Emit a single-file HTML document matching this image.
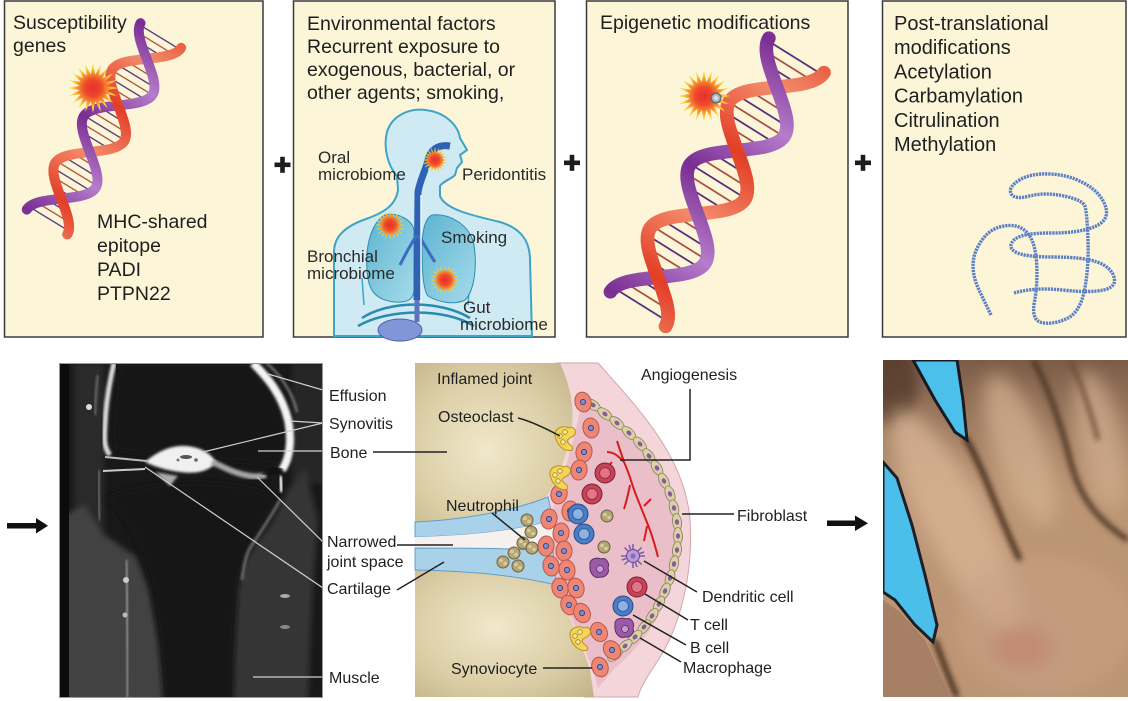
<!DOCTYPE html>
<html><head><meta charset="utf-8">
<style>
html,body{margin:0;padding:0;background:#fff;}
svg{display:block;}
text{font-family:"Liberation Sans",Arial,sans-serif;fill:#1f1f1f;}
</style></head><body>
<svg width="1128" height="701" viewBox="0 0 1128 701" xmlns="http://www.w3.org/2000/svg" xmlns:xlink="http://www.w3.org/1999/xlink">
<defs>
 <radialGradient id="sg">
  <stop offset="0" stop-color="#e6302a"/><stop offset="0.35" stop-color="#ee4a2c"/>
  <stop offset="0.6" stop-color="#f6902c"/><stop offset="0.8" stop-color="#fbcf38"/><stop offset="1" stop-color="#fde56e"/>
 </radialGradient>
 <polygon id="star" fill="url(#sg)" points="100,0 54,9 95,31 49,25 81,59 39,39 59,81 25,49 31,95 9,54 0,100 -9,54 -31,95 -25,49 -59,81 -39,39 -81,59 -49,25 -95,31 -54,9 -100,0 -54,-9 -95,-31 -49,-25 -81,-59 -39,-39 -59,-81 -25,-49 -31,-95 -9,-54 0,-100 9,-54 31,-95 25,-49 59,-81 39,-39 81,-59 49,-25 95,-31 54,-9"/>
 <linearGradient id="gp" gradientUnits="userSpaceOnUse" x1="0" y1="0" x2="57.5" y2="0" spreadMethod="reflect">
  <stop offset="0" stop-color="#7a2d92"/><stop offset="1" stop-color="#b57dcb"/>
 </linearGradient>
 <linearGradient id="go" gradientUnits="userSpaceOnUse" x1="28" y1="0" x2="85.5" y2="0" spreadMethod="reflect">
  <stop offset="0" stop-color="#e23e26"/><stop offset="1" stop-color="#f48c6c"/>
 </linearGradient>
 <pattern id="rp" patternUnits="userSpaceOnUse" x="0" y="-30" width="16" height="60">
  <rect x="3.3" y="0" width="1.3" height="60" fill="#4b2672"/>
  <rect x="11.3" y="0" width="1.3" height="60" fill="#a8473a"/>
 </pattern>
 <clipPath id="hc"><path d="M0,-25 C19,-25 38.5,25 57.5,25 S96,-25 115,-25 S153.5,25 172.5,25 S211,-25 230,-25 L230,25 C211,25 191.5,-25 172.5,-25 S134,25 115,25 S76.5,-25 57.5,-25 S19,25 0,25 Z"/></clipPath>
 <g id="helix">
  <rect x="0" y="-25" width="230" height="50" fill="url(#rp)" clip-path="url(#hc)"/>
  <path d="M0,25 C19,25 38.5,-25 57.5,-25 S96,25 115,25 S153.5,-25 172.5,-25 S211,25 230,25" fill="none" stroke="url(#go)" stroke-width="10.5" stroke-linecap="round"/>
  <path d="M0,-25 C19,-25 38.5,25 57.5,25 S96,-25 115,-25 S153.5,25 172.5,25 S211,-25 230,-25" fill="none" stroke="url(#gp)" stroke-width="10.5" stroke-linecap="round"/>
  <path d="M0,25 C19,25 38.5,-25 57.5,-25 M115,25 C134,25 153.5,-25 172.5,-25" fill="none" stroke="url(#go)" stroke-width="10.5" stroke-linecap="round"/>
 </g>
 <radialGradient id="sph"><stop offset="0" stop-color="#f4f8fa"/><stop offset="1" stop-color="#7d8f98"/></radialGradient>
 <linearGradient id="lung" x1="0" y1="0" x2="1" y2="1"><stop offset="0" stop-color="#5cb4d0"/><stop offset="1" stop-color="#a6dbeb"/></linearGradient>
 <radialGradient id="bone1" cx="0.45" cy="0.55" r="0.75"><stop offset="0" stop-color="#f1e8cb"/><stop offset="0.6" stop-color="#dccfa7"/><stop offset="1" stop-color="#c4b48b"/></radialGradient>
 <radialGradient id="bone2" cx="0.45" cy="0.45" r="0.75"><stop offset="0" stop-color="#f1e8cb"/><stop offset="0.6" stop-color="#dccfa7"/><stop offset="1" stop-color="#c4b48b"/></radialGradient>
 <g id="syn"><ellipse rx="8" ry="10" fill="#ee8676" stroke="#bd5648" stroke-width="1"/><circle r="2.6" fill="#7a8ed2" stroke="#2a3a7a" stroke-width="0.8"/></g>
 <g id="fib"><ellipse rx="8.5" ry="4.5" fill="#dad1a5" stroke="#8a8060" stroke-width="0.8"/><ellipse rx="2.8" ry="2.1" fill="#8a5aa0"/></g>
 <g id="tc"><circle r="10" fill="#c8425a" stroke="#7a2030"/><circle r="5.5" fill="#e27686" stroke="#9a3040"/></g>
 <g id="bc"><circle r="10" fill="#4a7cc8" stroke="#2a4a80"/><circle r="5.5" fill="#8cb2e2" stroke="#35609a"/></g>
 <g id="mac"><path d="M-9,-3 C-10,-9 -3,-11 2,-9 C7,-11 11,-5 9,0 C11,5 6,10 1,9 C-4,11 -10,6 -9,-3 Z" fill="#9b5aa6" stroke="#5e2f6a"/><circle cx="1" cy="1" r="3.5" fill="#c59ad0" stroke="#5e2f6a" stroke-width="0.8"/></g>
 <g id="neu"><circle r="6" fill="#b5a676" stroke="#6d6240"/><circle cx="-2" cy="-1.5" r="1.8" fill="#d9cd9f"/><circle cx="2" cy="1.5" r="1.8" fill="#d9cd9f"/></g>
 <g id="ost"><path d="M-11,-2 C-12,-10 -3,-13 3,-10 C6,-12 11,-9 9,-4 C7,0 2,-1 1,3 C2,7 9,8 6,12 C2,14 -8,11 -11,-2 Z" fill="#f5d457" stroke="#b8951f"/><circle cx="-6" cy="-2" r="2.3" fill="#fbeaa0" stroke="#a08020" stroke-width="0.8"/><circle cx="-1" cy="-6" r="2.3" fill="#fbeaa0" stroke="#a08020" stroke-width="0.8"/><circle cx="-3" cy="4" r="2.3" fill="#fbeaa0" stroke="#a08020" stroke-width="0.8"/></g>
 <filter id="bl1" x="-20%" y="-20%" width="140%" height="140%"><feGaussianBlur stdDeviation="1.2"/></filter>
 <filter id="bl3" x="-30%" y="-30%" width="160%" height="160%"><feGaussianBlur stdDeviation="3"/></filter>
 <filter id="bl6" x="-30%" y="-30%" width="160%" height="160%"><feGaussianBlur stdDeviation="6"/></filter>
 <filter id="bl8" x="-50%" y="-50%" width="200%" height="200%"><feGaussianBlur stdDeviation="9"/></filter>
 <clipPath id="mriclip"><rect x="59" y="363" width="264" height="335"/></clipPath>
 <clipPath id="handclip"><rect x="883" y="360" width="245" height="337"/></clipPath>
 <linearGradient id="handtop" x1="0" y1="0" x2="0" y2="1"><stop offset="0" stop-color="#5f4334" stop-opacity="0.7"/><stop offset="0.4" stop-color="#7a5a46" stop-opacity="0"/></linearGradient>
</defs>

<!-- ===== TOP BOXES ===== -->
<rect x="4.5" y="1" width="258.5" height="336" fill="#fcf5d8" stroke="#3a3a3a" stroke-width="1.5"/>
<rect x="293.5" y="1" width="261.5" height="336" fill="#fcf5d8" stroke="#3a3a3a" stroke-width="1.5"/>
<rect x="586.5" y="1" width="261.5" height="336" fill="#fcf5d8" stroke="#3a3a3a" stroke-width="1.5"/>
<rect x="882.5" y="1" width="243.5" height="336" fill="#fcf5d8" stroke="#3a3a3a" stroke-width="1.5"/>

<g fill="#1c1c1c">
 <rect x="274.5" y="162.5" width="16" height="4.6"/><rect x="280.2" y="156.8" width="4.6" height="16"/>
 <rect x="564" y="160.5" width="16" height="4.6"/><rect x="569.7" y="154.8" width="4.6" height="16"/>
 <rect x="855" y="160.5" width="16" height="4.6"/><rect x="860.7" y="154.8" width="4.6" height="16"/>
</g>

<!-- Box 1 -->
<use xlink:href="#helix" href="#helix" transform="translate(47,222) rotate(-58.6) scale(0.95)"/>
<use xlink:href="#star" href="#star" transform="translate(93,88) scale(0.25)"/>
<text font-size="19.5" x="13" y="29">Susceptibility</text>
<text font-size="19.5" x="13" y="52">genes</text>
<text font-size="19.5" x="97" y="228">MHC-shared</text>
<text font-size="19.5" x="97" y="252">epitope</text>
<text font-size="19.5" x="97" y="276">PADI</text>
<text font-size="19.5" x="97" y="300">PTPN22</text>

<!-- Box 2 -->
<text font-size="19.5" x="307" y="30">Environmental factors</text>
<text font-size="19.5" x="307" y="53">Recurrent exposure to</text>
<text font-size="19.5" x="307" y="76">exogenous, bacterial, or</text>
<text font-size="19.5" x="307" y="99">other agents; smoking,</text>
<path d="M334,336 L334,252 C334,236 346,226 366,219 C386,212 396,204 398,190 L397,176 C388,166 383,148 387,132 C392,115 410,108 425,110 C445,112 458,125 460,138 L467,150 L460,155 L462,162 L457,168 L455,175 C450,180 443,181 440,186 L440,196 C445,209 470,215 500,222 C520,228 530,240 530,260 L532,336 Z" fill="#d0eaf3" stroke="#3ea3c9" stroke-width="2"/>
<path d="M362,278 L364,305 M470,280 L468,305" stroke="#3ea3c9" stroke-width="1.5" fill="none"/>
<path d="M385,215 C372,222 365,245 367,270 C368,290 375,300 395,302 C410,303 415,298 414,285 L414,230 C412,220 398,212 385,215 Z" fill="url(#lung)" stroke="#2b8cb0" stroke-width="1"/>
<path d="M432,215 C450,213 470,225 474,245 C477,265 475,290 465,300 C455,305 440,303 428,296 C423,290 422,270 422,250 C422,230 425,218 432,215 Z" fill="url(#lung)" stroke="#2b8cb0" stroke-width="1"/>
<path d="M450,146 C438,144 430,150 428,160 C425,172 420,180 418,192 L417,300" fill="none" stroke="#2f62b4" stroke-width="7"/>
<path d="M417,235 C410,245 405,255 400,265 M418,235 C425,245 430,255 435,262" fill="none" stroke="#3a6cc0" stroke-width="3"/>
<path d="M421,195 L421,318" stroke="#eef6fa" stroke-width="1.5"/>
<path d="M362,318 C390,300 440,300 470,318 M358,326 C390,308 445,308 474,326" fill="none" stroke="#2a8ab0" stroke-width="2.5"/>
<ellipse cx="400" cy="330" rx="22" ry="11" fill="#8196d6" stroke="#4d5fa8" stroke-width="1"/>
<path d="M417,300 L417,322" stroke="#5d74c0" stroke-width="5"/>
<use xlink:href="#star" href="#star" transform="translate(435,160) scale(0.13)"/>
<use xlink:href="#star" href="#star" transform="translate(390,225) scale(0.15)"/>
<use xlink:href="#star" href="#star" transform="translate(445,280) scale(0.15)"/>
<g font-size="17">
<text x="318" y="163" style="fill:#2a2a2a">Oral</text>
<text x="318" y="180" style="fill:#2a2a2a">microbiome</text>
<text x="462" y="180" style="fill:#2a2a2a">Peridontitis</text>
<text x="441" y="243" style="fill:#2a2a2a">Smoking</text>
<text x="307" y="262" style="fill:#2a2a2a">Bronchial</text>
<text x="307" y="279" style="fill:#2a2a2a">microbiome</text>
<text x="463" y="313" style="fill:#2a2a2a">Gut</text>
<text x="460" y="330" style="fill:#2a2a2a">microbiome</text>
</g>

<!-- Box 3 -->
<use xlink:href="#helix" href="#helix" transform="translate(638,309) rotate(-58) scale(1.3)"/>
<use xlink:href="#star" href="#star" transform="translate(704,96) scale(0.26)"/>
<circle cx="716" cy="98" r="5" fill="url(#sph)" stroke="#50606a" stroke-width="1"/>
<text font-size="19.5" x="600" y="29">Epigenetic modifications</text>

<!-- Box 4 -->
<text font-size="20" x="894" y="30">Post-translational</text>
<text font-size="20" x="894" y="54">modifications</text>
<text font-size="20" x="894" y="78.5">Acetylation</text>
<text font-size="20" x="894" y="102.5">Carbamylation</text>
<text font-size="20" x="894" y="127">Citrulination</text>
<text font-size="20" x="894" y="151">Methylation</text>
<path d="M991,315 L979.5,291 Q968,267 977,248.5 Q986,230 1001.5,226.5 Q1017,223 1026,231.5 Q1035,240 1036.5,261.5 Q1038,283 1034.5,301.5 Q1031,320 1041.5,322.5 Q1052,325 1066,319 Q1080,313 1084.5,290 Q1089,267 1088,240 Q1087,213 1085,206.5 Q1083,200 1064,196 Q1045,192 1029.5,196 Q1014,200 1011,193.5 Q1008,187 1019.5,180 Q1031,173 1050.5,174 Q1070,175 1085.5,184 Q1101,193 1105.5,206.5 Q1110,220 1095,226.5 Q1080,233 1050.5,233 Q1021,233 1014,240 Q1007,247 1015.5,252 Q1024,257 1053.5,257 Q1083,257 1097,262 Q1111,267 1114,277 Q1117,287 1103.5,290 Q1090,293 1062.5,290 Q1035,287 1014,293" fill="none" stroke="#5a7fc6" stroke-width="3.4" stroke-dasharray="2.2 0.9"/>

<!-- ===== ARROWS ===== -->
<g fill="#111">
 <rect x="7" y="523" width="31" height="5.5"/><polygon points="36,518 48,525.8 36,533.5"/>
 <rect x="827" y="520.5" width="30" height="5.5"/><polygon points="855,515.5 868,523.3 855,531"/>
</g>

<!-- ===== MRI ===== -->
<rect x="59" y="363" width="264" height="335" fill="#181818"/>
<g clip-path="url(#mriclip)">
 <rect x="74" y="363" width="30" height="170" fill="#2b2b2b" filter="url(#bl3)"/>
 <rect x="292" y="363" width="35" height="120" fill="#262626" filter="url(#bl3)"/>
 <polygon points="55,520 85,505 102,533 136,557 149,590 159,640 166,705 55,705" fill="#434343" filter="url(#bl3)"/>
 <polygon points="305,468 318,520 312,600 308,705 232,705 234,640 236,590 246,557 272,523 288,490" fill="#353535" filter="url(#bl3)"/>
 <path d="M105,498 C125,515 140,540 150,580 C158,620 162,660 164,705 L232,705 C232,660 234,620 238,585 C246,550 262,525 280,497 C250,486 225,482 195,482 C160,482 128,488 105,498 Z" fill="#151515" filter="url(#bl3)"/>
 <path d="M118,372 C112,400 110,430 112,450 L150,455 C175,448 200,447 215,460 L280,466 C288,440 285,405 270,385 C262,373 255,366 250,363 L120,363 Z" fill="#151515" filter="url(#bl3)"/>
 <rect x="59" y="363" width="10" height="335" fill="#0b0b0b"/>
 <path d="M98,375 C96,390 95,405 95,415" stroke="#777" stroke-width="2" fill="none" filter="url(#bl1)"/>
 <path d="M99,470 C98,490 99,505 100,520" stroke="#666" stroke-width="3" fill="none" filter="url(#bl1)"/>
 <path d="M114,363 C110,380 106,400 105,425 C104,440 104,448 110,455" stroke="#dcdcdc" stroke-width="5" fill="none" filter="url(#bl1)"/>
 <path d="M253,363 C268,378 282,395 288,420 C292,440 290,458 282,470" stroke="#f4f4f4" stroke-width="8" fill="none" filter="url(#bl1)"/>
 <path d="M266,363 C278,372 292,390 297,412" stroke="#8a8a8a" stroke-width="2" fill="none" filter="url(#bl1)"/>
 <path d="M145,462 C158,451 172,445 186,446 C202,447 212,455 216,462 C209,472 195,474 180,472 C164,470 154,466 145,462 Z" fill="#f0f0f0" filter="url(#bl1)"/>
 <ellipse cx="186" cy="457" rx="6" ry="2" fill="#555"/><circle cx="196" cy="460" r="1.8" fill="#666"/><circle cx="178" cy="460" r="1.5" fill="#777"/>
 <path d="M212,462 C222,466 232,473 250,476 C258,477 262,476 266,475" stroke="#a5a5a5" stroke-width="6" fill="none" filter="url(#bl1)"/>
 <path d="M262,474 L282,469" stroke="#0a0a0a" stroke-width="3" filter="url(#bl1)"/>
 <path d="M105,457 L147,461" stroke="#bbb" stroke-width="2"/>
 <path d="M103,471 L145,469" stroke="#ccc" stroke-width="2"/>
 <path d="M100,470 L100,490" stroke="#ddd" stroke-width="5" filter="url(#bl1)"/>
 <polygon points="155,472 178,476 170,486" fill="#aaa" filter="url(#bl1)"/>
 <path d="M280,476 L282,492" stroke="#ddd" stroke-width="5" filter="url(#bl1)"/>
 <path d="M280,500 C272,515 262,530 250,548 C246,555 244,565 242,580" stroke="#777" stroke-width="2.5" fill="none" filter="url(#bl1)"/>
 <path d="M126,560 C127,590 128,630 128,698" stroke="#8a8a8a" stroke-width="3" fill="none" filter="url(#bl1)"/>
 <circle cx="126" cy="580" r="3" fill="#ccc"/><circle cx="125" cy="615" r="2.5" fill="#bbb"/>
 <ellipse cx="285" cy="596" rx="5" ry="2" fill="#aaa"/>
 <ellipse cx="285" cy="627" rx="5" ry="2" fill="#888"/>
 <circle cx="89" cy="407" r="3" fill="#ddd"/>
 <g stroke="#d0d0d0" stroke-width="1.2">
  <line x1="268" y1="374" x2="323" y2="390"/>
  <line x1="290" y1="421" x2="323" y2="423"/>
  <line x1="203" y1="452" x2="323" y2="423"/>
  <line x1="258" y1="451" x2="323" y2="451"/>
  <line x1="257" y1="477" x2="323" y2="542"/>
  <line x1="145" y1="467" x2="323" y2="588"/>
  <line x1="253" y1="677" x2="323" y2="677"/>
 </g>
</g>
<rect x="59.5" y="363.5" width="263" height="334" fill="none" stroke="#999" stroke-width="1"/>
<g font-size="16">
 <text x="329" y="401">Effusion</text>
 <text x="329" y="429">Synovitis</text>
 <text x="330" y="458">Bone</text>
 <text x="327" y="547">Narrowed</text>
 <text x="327" y="567">joint space</text>
 <text x="327" y="594">Cartilage</text>
 <text x="329" y="683">Muscle</text>
</g>

<!-- ===== JOINT DIAGRAM ===== -->
<path d="M556,363 L598,363 C635,405 685,455 690,520 C694,585 675,635 657,662 C647,677 640,688 638,697 L585,697 L545,500 Z" fill="#f4d6da" stroke="#d4a4aa" stroke-width="1"/>
<path d="M583,398 C625,425 672,470 676,530 C679,585 660,630 615,668 L598,688 C585,640 560,600 548,560 C545,530 555,500 565,470 C572,445 578,420 583,398 Z" fill="#eabfca"/>
<path d="M415,363 L560,363 C570,385 574,405 572,425 C569,450 558,480 545,498 C510,512 460,520 415,522 Z" fill="url(#bone1)"/>
<path d="M415,570 C470,571 520,576 556,585 C566,610 580,640 590,670 L594,697 L415,697 Z" fill="url(#bone2)"/>
<path d="M415,522 C460,520 510,512 548,497 L553,520 C520,530 470,536 415,537 Z" fill="#a9d2ea" stroke="#5f9fc8" stroke-width="1"/>
<path d="M415,537 C470,536 520,530 553,520 L553,552 C520,548 470,548 415,548 Z" fill="#f6f1ee"/>
<path d="M415,548 C470,548 520,548 553,552 L556,585 C520,576 470,571 415,570 Z" fill="#a9d2ea" stroke="#5f9fc8" stroke-width="1"/>
<path d="M607,452 C615,452 620,458 624,462 C630,475 632,485 636,495 C640,505 644,515 648,525 C652,535 655,545 658,557 M617,441 C620,450 622,456 624,462 M630,485 C628,495 626,503 624,509 M644,506 L651,499 M647,526 C646,532 645,536 644,541 M612,462 L605,470" fill="none" stroke="#d81c1c" stroke-width="2"/>
<g>
<use href="#fib" xlink:href="#fib" transform="translate(593,405) rotate(35)"/>
<use href="#fib" xlink:href="#fib" transform="translate(605,414) rotate(38)"/>
<use href="#fib" xlink:href="#fib" transform="translate(617,423) rotate(40)"/>
<use href="#fib" xlink:href="#fib" transform="translate(629,433) rotate(44)"/>
<use href="#fib" xlink:href="#fib" transform="translate(640,444) rotate(48)"/>
<use href="#fib" xlink:href="#fib" transform="translate(649,456) rotate(54)"/>
<use href="#fib" xlink:href="#fib" transform="translate(657,468) rotate(58)"/>
<use href="#fib" xlink:href="#fib" transform="translate(664,481) rotate(64)"/>
<use href="#fib" xlink:href="#fib" transform="translate(670,494) rotate(70)"/>
<use href="#fib" xlink:href="#fib" transform="translate(674,508) rotate(76)"/>
<use href="#fib" xlink:href="#fib" transform="translate(677,522) rotate(82)"/>
<use href="#fib" xlink:href="#fib" transform="translate(678,536) rotate(88)"/>
<use href="#fib" xlink:href="#fib" transform="translate(677,550) rotate(94)"/>
<use href="#fib" xlink:href="#fib" transform="translate(674,564) rotate(100)"/>
<use href="#fib" xlink:href="#fib" transform="translate(670,578) rotate(106)"/>
<use href="#fib" xlink:href="#fib" transform="translate(665,591) rotate(112)"/>
<use href="#fib" xlink:href="#fib" transform="translate(659,604) rotate(118)"/>
<use href="#fib" xlink:href="#fib" transform="translate(652,616) rotate(124)"/>
<use href="#fib" xlink:href="#fib" transform="translate(644,627) rotate(130)"/>
<use href="#fib" xlink:href="#fib" transform="translate(635,637) rotate(136)"/>
<use href="#fib" xlink:href="#fib" transform="translate(625,646) rotate(140)"/>
<use href="#fib" xlink:href="#fib" transform="translate(615,655) rotate(142)"/>
</g>
<g>
<use href="#syn" xlink:href="#syn" transform="translate(583,402) rotate(-15)"/>
<use href="#syn" xlink:href="#syn" transform="translate(591,428) rotate(-10)"/>
<use href="#syn" xlink:href="#syn" transform="translate(584,452) rotate(10)"/>
<use href="#syn" xlink:href="#syn" transform="translate(559,494) rotate(15)"/>
<use href="#syn" xlink:href="#syn" transform="translate(570,511) rotate(10)"/>
<use href="#syn" xlink:href="#syn" transform="translate(549,519) rotate(10)"/>
<use href="#syn" xlink:href="#syn" transform="translate(561,533) rotate(5)"/>
<use href="#syn" xlink:href="#syn" transform="translate(546,546) rotate(5)"/>
<use href="#syn" xlink:href="#syn" transform="translate(564,551) rotate(0)"/>
<use href="#syn" xlink:href="#syn" transform="translate(551,566) rotate(-10)"/>
<use href="#syn" xlink:href="#syn" transform="translate(567,570) rotate(-10)"/>
<use href="#syn" xlink:href="#syn" transform="translate(560,588) rotate(-15)"/>
<use href="#syn" xlink:href="#syn" transform="translate(576,588) rotate(-15)"/>
<use href="#syn" xlink:href="#syn" transform="translate(569,605) rotate(-20)"/>
<use href="#syn" xlink:href="#syn" transform="translate(582,613) rotate(-25)"/>
<use href="#syn" xlink:href="#syn" transform="translate(579,470) rotate(10)"/>
<use href="#syn" xlink:href="#syn" transform="translate(599,632) rotate(-30)"/>
<use href="#syn" xlink:href="#syn" transform="translate(612,650) rotate(-35)"/>
<use href="#syn" xlink:href="#syn" transform="translate(600,667) rotate(-20)"/>
</g>
<use href="#ost" xlink:href="#ost" transform="translate(566,438)"/>
<use href="#ost" xlink:href="#ost" transform="translate(561,477)"/>
<use href="#ost" xlink:href="#ost" transform="translate(581,638)"/>
<use href="#neu" xlink:href="#neu" transform="translate(527,520)"/>
<use href="#neu" xlink:href="#neu" transform="translate(531,532)"/>
<use href="#neu" xlink:href="#neu" transform="translate(523,543)"/>
<use href="#neu" xlink:href="#neu" transform="translate(514,553)"/>
<use href="#neu" xlink:href="#neu" transform="translate(503,562)"/>
<use href="#neu" xlink:href="#neu" transform="translate(518,566)"/>
<use href="#neu" xlink:href="#neu" transform="translate(532,548)"/>
<use href="#neu" xlink:href="#neu" transform="translate(607,516)"/>
<use href="#neu" xlink:href="#neu" transform="translate(604,547)"/>
<use href="#tc" xlink:href="#tc" transform="translate(605,473)"/>
<use href="#tc" xlink:href="#tc" transform="translate(592,494)"/>
<use href="#tc" xlink:href="#tc" transform="translate(637,587)"/>
<use href="#bc" xlink:href="#bc" transform="translate(578,514)"/>
<use href="#bc" xlink:href="#bc" transform="translate(584,534)"/>
<use href="#bc" xlink:href="#bc" transform="translate(623,606)"/>
<use href="#mac" xlink:href="#mac" transform="translate(599,568)"/>
<use href="#mac" xlink:href="#mac" transform="translate(624,628)"/>
<g transform="translate(633,556)">
 <path d="M0,-12 L0,12 M-12,0 L12,0 M-8.5,-8.5 L8.5,8.5 M-8.5,8.5 L8.5,-8.5 M-4,-11 L4,11 M-11,4 L11,-4" stroke="#7a5aaa" stroke-width="1.5"/>
 <circle r="6.5" fill="#b89ad8" stroke="#6a4a9a"/><circle r="2.5" fill="#8a6ab8"/>
</g>
<g stroke="#222" stroke-width="1.5" fill="none">
 <line x1="373" y1="452" x2="447" y2="452"/>
 <line x1="397" y1="545" x2="453" y2="545"/>
 <line x1="397" y1="590" x2="444" y2="562"/>
 <path d="M518,418 C530,421 545,428 560,436"/>
 <path d="M690,389 L690,460 L620,460"/>
 <line x1="682" y1="514" x2="734" y2="514"/>
 <line x1="492" y1="513" x2="525" y2="540"/>
 <line x1="644" y1="561" x2="697" y2="592"/>
 <line x1="645" y1="594" x2="688" y2="620"/>
 <line x1="633" y1="615" x2="686" y2="645"/>
 <line x1="640" y1="638" x2="681" y2="662"/>
 <line x1="543" y1="668" x2="592" y2="668"/>
</g>
<g font-size="16">
 <text x="437" y="384">Inflamed joint</text>
 <text x="438" y="422">Osteoclast</text>
 <text x="641" y="380">Angiogenesis</text>
 <text x="446" y="511">Neutrophil</text>
 <text x="737" y="521">Fibroblast</text>
 <text x="702" y="602">Dendritic cell</text>
 <text x="690" y="630">T cell</text>
 <text x="690" y="653">B cell</text>
 <text x="683" y="673">Macrophage</text>
 <text x="451" y="674">Synoviocyte</text>
</g>

<!-- ===== HAND PHOTO ===== -->
<g clip-path="url(#handclip)">
 <rect x="883" y="360" width="245" height="337" fill="#bb9574"/>
 <rect x="883" y="360" width="245" height="337" fill="url(#handtop)"/>
 <ellipse cx="893" cy="385" rx="25" ry="40" fill="#4e3628" opacity="0.7" filter="url(#bl6)"/>
 <ellipse cx="955" cy="520" rx="32" ry="125" transform="rotate(-28 955 520)" fill="#d8b494" opacity="0.8" filter="url(#bl8)"/>
 <ellipse cx="1020" cy="450" rx="26" ry="80" transform="rotate(-20 1020 450)" fill="#d2b090" opacity="0.75" filter="url(#bl8)"/>
 <ellipse cx="1100" cy="440" rx="22" ry="70" transform="rotate(-12 1100 440)" fill="#d0ad8e" opacity="0.75" filter="url(#bl8)"/>
 <ellipse cx="1045" cy="625" rx="90" ry="70" fill="#c9a185" opacity="0.6" filter="url(#bl8)"/>
 <ellipse cx="1022" cy="648" rx="30" ry="20" fill="#c07a66" opacity="0.5" filter="url(#bl8)"/>
 <path d="M965,437 C975,455 983,472 990,490 C1000,515 1010,540 1020,560" fill="none" stroke="#3a2418" stroke-width="5" filter="url(#bl3)"/>
 <path d="M1033,360 C1045,380 1060,420 1070,460 C1078,490 1090,515 1128,540" fill="none" stroke="#4a3020" stroke-width="5" filter="url(#bl3)"/>
 <path d="M1070,360 C1080,380 1090,410 1098,440" fill="none" stroke="#6a4a36" stroke-width="4" filter="url(#bl3)"/>
 <path d="M935,640 C942,660 950,680 957,697" fill="none" stroke="#3a2418" stroke-width="5" filter="url(#bl3)"/>
 <polygon points="913,360 957,360 963,400 967,440 955,432 935,400" fill="#4cc0ea" stroke="#1a1a22" stroke-width="3"/>
 <polygon points="883,462 897,478 912,525 925,575 937,625 933,642 915,625 895,600 883,592" fill="#4abfe9" stroke="#1e1e28" stroke-width="3"/>
 <polygon points="883,600 900,612 925,640 950,697 883,697" fill="#9c7660" opacity="0.7"/>
</g>
</svg>
</body></html>
